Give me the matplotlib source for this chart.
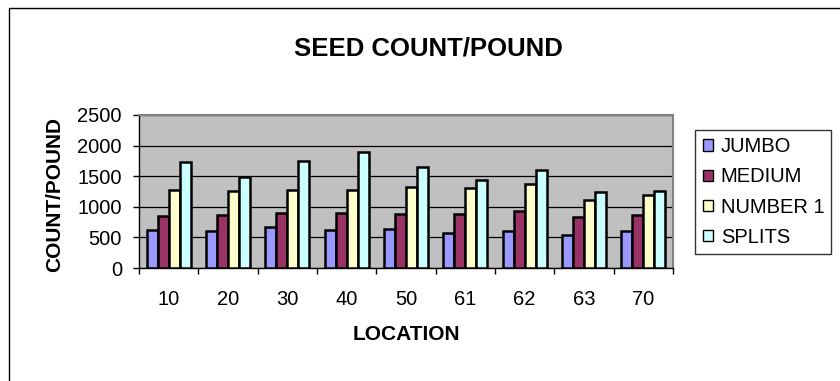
import numpy as np
import matplotlib
matplotlib.use("Agg")
import matplotlib.pyplot as plt
import matplotlib.patches as patches

plt.rcParams['font.family'] = ['Liberation Sans', 'DejaVu Sans']

locations = ["10", "20", "30", "40", "50", "61", "62", "63", "70"]
series_names = ["JUMBO", "MEDIUM", "NUMBER 1", "SPLITS"]
jumbo = [626, 605, 675, 615, 631, 572, 605, 539, 605]
medium = [843, 871, 899, 892, 876, 882, 931, 833, 866]
number1 = [1274, 1258, 1280, 1274, 1323, 1301, 1378, 1116, 1193]
splits = [1726, 1492, 1753, 1900, 1644, 1443, 1595, 1242, 1258]
y_ticks = [0, 500, 1000, 1500, 2000, 2500]

colors = ["#9999FF", "#993366", "#FFFFCC", "#CCFFFF"]

W, H = 840, 381
fig = plt.figure(figsize=(W / 100, H / 100), dpi=100)

# plot area in pixel coords: left 139, right 673, top 115, bottom 268
ax = fig.add_axes([139 / W, 1 - 268 / H, (673 - 139) / W, (268 - 115) / H])
ax.set_facecolor("#C0C0C0")

x = np.arange(len(locations))
bw = 0.1855
for i, (name, vals) in enumerate(zip(series_names, [jumbo, medium, number1, splits])):
    ax.bar(x + (i - 1.5) * bw, vals, width=bw, color=colors[i],
           edgecolor="black", linewidth=1.8, label=name, zorder=3)

ax.set_xlim(-0.5, len(locations) - 0.5)
ax.set_ylim(0, 2500)
ax.set_yticks(y_ticks)
ax.set_yticklabels([str(v) for v in y_ticks], fontsize=14.5)
ax.set_xticks(x)
ax.set_xticklabels(locations, fontsize=14.5)
ax.set_xticks(np.arange(-0.5, len(locations)), minor=True)
ax.tick_params(axis="x", which="major", length=0, pad=16)
ax.tick_params(axis="x", which="minor", length=4.3, direction="out", width=1)
ax.tick_params(axis="y", length=4.3, width=1, pad=8)

ax.yaxis.grid(True, color="black", linewidth=0.9)
ax.set_axisbelow(True)
for s in ["left", "bottom"]:
    ax.spines[s].set_color("black")
    ax.spines[s].set_linewidth(1)
for s in ["top", "right"]:
    ax.spines[s].set_color("#808080")
    ax.spines[s].set_linewidth(1.5)

fig.text(428.8 / W, 1 - 48 / H, "SEED COUNT/POUND", fontsize=18.5,
         fontweight="bold", ha="center", va="center")
fig.text(406 / W, 1 - 335 / H, "LOCATION", fontsize=15,
         fontweight="bold", ha="center", va="center")
fig.text(55 / W, 1 - 195 / H, "COUNT/POUND", fontsize=15,
         fontweight="bold", ha="center", va="center", rotation=90)

leg = fig.legend(loc="center", bbox_to_anchor=(763.4 / W, 1 - 192 / H),
                 fontsize=14.5, frameon=True, fancybox=False, shadow=False,
                 handlelength=0.5, handleheight=0.5, handletextpad=0.4,
                 labelspacing=0.55, borderpad=0.35, borderaxespad=0)
leg.get_frame().set_edgecolor("black")
leg.get_frame().set_linewidth(1)
for h in leg.legend_handles:
    h.set_linewidth(1)

# outer chart border (runs off right and bottom edges)
fig.add_artist(patches.Rectangle((9 / W, -0.1), 1.2, 1 - 8 / H + 0.1,
                                 transform=fig.transFigure, fill=False,
                                 edgecolor="black", linewidth=1))

fig.savefig("out.png", dpi=100)
